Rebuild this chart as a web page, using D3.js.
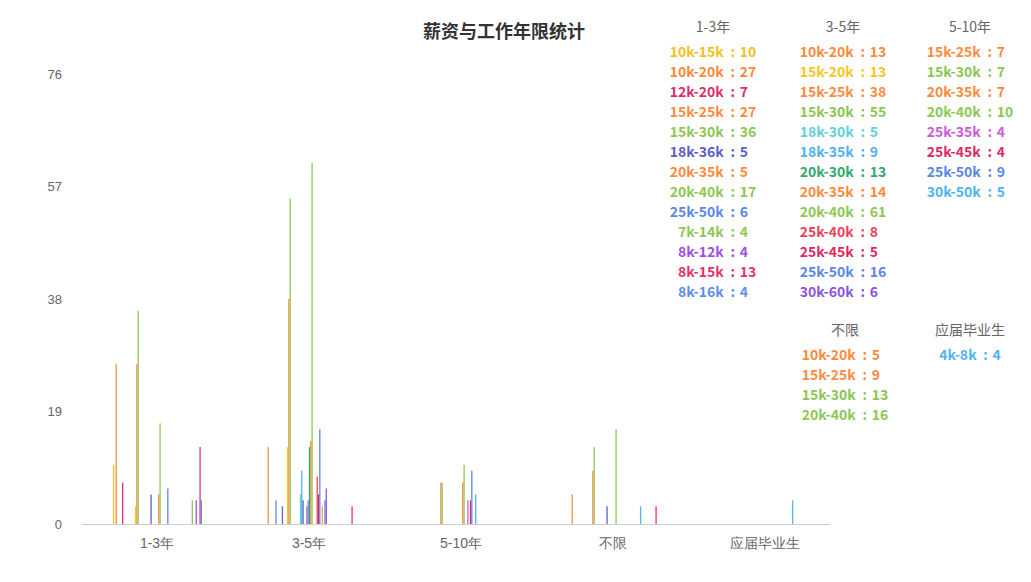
<!DOCTYPE html>
<html>
<head>
<meta charset="utf-8">
<script src="https://cdn.jsdelivr.net/npm/d3@7"></script>
<style>
  body { margin: 0; background: #fff; }
  svg { display: block; font-family: "Microsoft YaHei", "Noto Sans CJK SC", sans-serif; }
</style>
</head>
<body>
<svg id="chart"></svg>
<script>
// Categories (work experience)
const experience = ['1-3年', '3-5年', '5-10年', '不限', '应届毕业生'];

// All salary ranges found in the data, in the order the series are laid out
const salaryKeys = [
  '10k-15k', '10k-18k', '10k-20k', '10k-25k', '11k-20k', '11k-22k', '12k-18k', '12k-20k', '12k-22k',
  '12k-24k', '12k-25k', '13k-20k', '13k-25k', '14k-20k', '14k-25k', '14k-28k', '15k-18k',
  '15k-20k', '15k-25k', '15k-30k', '15k-35k', '16k-25k', '16k-30k', '16k-32k', '17k-25k', '17k-30k', '18k-25k',
  '18k-30k', '18k-35k', '18k-36k', '19k-30k', '20k-22k', '20k-25k', '20k-28k', '20k-30k', '20k-35k', '20k-40k',
  '22k-40k', '25k-30k', '25k-35k', '25k-40k', '25k-45k', '25k-50k', '28k-45k', '30k-40k', '30k-50k', '30k-55k', '30k-60k',
  '35k-50k', '35k-60k', '35k-70k', '3k-5k', '40k-60k', '4k-6k', '4k-7k', '4k-8k',
  '50k-80k', '5k-10k', '5k-8k', '6k-10k', '6k-12k', '7k-14k', '7k-15k', '8k-10k', '8k-12k', '8k-13k', '8k-14k', '8k-15k', '8k-16k'
];

// Job counts per salary range, one list per category
const counts1to3 = [
  ['10k-15k', 10], ['10k-20k', 27], ['12k-20k', 7], ['15k-20k', 3], ['15k-25k', 27], ['15k-30k', 36],
  ['18k-36k', 5], ['20k-35k', 5], ['20k-40k', 17], ['25k-50k', 6], ['7k-14k', 4], ['8k-12k', 4],
  ['8k-15k', 13], ['8k-16k', 4]
];
const counts3to5 = [
  ['10k-20k', 13], ['12k-22k', 4], ['14k-20k', 3], ['15k-20k', 13], ['15k-25k', 38], ['15k-30k', 55],
  ['18k-30k', 5], ['18k-35k', 9], ['18k-36k', 4], ['20k-25k', 3], ['20k-28k', 4], ['20k-30k', 13],
  ['20k-35k', 14], ['20k-40k', 61], ['25k-40k', 8], ['25k-45k', 5], ['25k-50k', 16], ['30k-40k', 3],
  ['30k-55k', 4], ['30k-60k', 6], ['8k-15k', 3]
];
const counts5to10 = [
  ['15k-25k', 7], ['15k-30k', 7], ['20k-35k', 7], ['20k-40k', 10], ['25k-35k', 4], ['25k-45k', 4],
  ['25k-50k', 9], ['30k-50k', 5]
];
const countsAny = [
  ['10k-20k', 5], ['15k-25k', 9], ['15k-30k', 13], ['18k-36k', 3], ['20k-40k', 16], ['4k-8k', 3], ['8k-15k', 3]
];
const countsGraduate = [['4k-8k', 4]];
const countsByExperience = [counts1to3, counts3to5, counts5to10, countsAny, countsGraduate];

// Entries listed in the summary at the top right
const legend1to3 = ['10k-15k', '10k-20k', '12k-20k', '15k-25k', '15k-30k', '18k-36k', '20k-35k', '20k-40k', '25k-50k', '7k-14k', '8k-12k', '8k-15k', '8k-16k'];
const legend3to5 = ['10k-20k', '15k-20k', '15k-25k', '15k-30k', '18k-30k', '18k-35k', '20k-30k', '20k-35k', '20k-40k', '25k-40k', '25k-45k', '25k-50k', '30k-60k'];
const legend5to10 = ['15k-25k', '15k-30k', '20k-35k', '20k-40k', '25k-35k', '25k-45k', '25k-50k', '30k-50k'];
const legendAny = ['10k-20k', '15k-25k', '15k-30k', '20k-40k'];
const legendGraduate = ['4k-8k'];

const yTicks = [0, 19, 38, 57, 76];

// Series colours
const salaryColors = {
  '10k-15k': '#f6c022', '10k-20k': '#fb8a3c', '12k-20k': '#dc2d6a', '12k-22k': '#5b8ff0',
  '14k-20k': '#6463c9', '15k-20k': '#f8c623', '15k-25k': '#fd8b3f', '15k-30k': '#8cc652',
  '18k-30k': '#63d0dc', '18k-35k': '#4fb2ef', '18k-36k': '#5d5ec6', '20k-25k': '#b552c5',
  '20k-28k': '#5a8ee6', '20k-30k': '#2eaa6f', '20k-35k': '#fb8a3c', '20k-40k': '#8ec755',
  '25k-35k': '#cf5ad9', '25k-40k': '#f1415a', '25k-45k': '#df2862', '25k-50k': '#5a87e6',
  '30k-40k': '#fd9f4a', '30k-50k': '#4cb5f2', '30k-55k': '#5a87e6', '30k-60k': '#8b55da',
  '4k-8k': '#4fb5f2', '7k-14k': '#8ec755', '8k-12k': '#9c4fe0', '8k-15k': '#e7316c', '8k-16k': '#5d8fe8'
};

const width = 1031;
const height = 582;

const svg = d3.select('#chart')
  .attr('width', width)
  .attr('height', height);

// Scales
const x0 = d3.scaleBand()
  .domain(experience)
  .range([81, 841]);

const x1 = d3.scaleBand()
  .domain(salaryKeys)
  .range([-44, 45])
  .paddingInner(0);

const y = d3.scaleLinear()
  .domain([0, 76])
  .range([524, 74]);

// Title
svg.append('text')
  .attr('x', 504)
  .attr('y', 38)
  .attr('text-anchor', 'middle')
  .attr('font-size', 18)
  .attr('font-weight', 'bold')
  .attr('fill', '#333')
  .text('薪资与工作年限统计');

// Y axis: labels only
const yAxis = svg.append('g')
  .attr('transform', 'translate(62,0)')
  .call(d3.axisLeft(y).tickValues(yTicks).tickSize(0).tickPadding(0));
yAxis.select('.domain').remove();
yAxis.selectAll('text')
  .attr('fill', '#666')
  .attr('font-size', 13)
  .attr('font-family', null);

// X axis
const xAxis = svg.append('g')
  .attr('transform', 'translate(0,524)')
  .call(d3.axisBottom(x0).tickSize(0).tickPadding(14));
xAxis.select('.domain').remove();
xAxis.selectAll('text')
  .attr('fill', '#666')
  .attr('font-size', 14)
  .attr('font-family', null);

svg.append('line')
  .attr('x1', 82)
  .attr('x2', 830)
  .attr('y1', 524.5)
  .attr('y2', 524.5)
  .attr('stroke', '#ccc');

// Bars
const groups = svg.append('g')
  .selectAll('g')
  .data(experience)
  .join('g')
  .attr('transform', d => `translate(${x0(d) + x0.bandwidth() / 2},0)`);

groups.selectAll('rect')
  .data((d, i) => countsByExperience[i])
  .join('rect')
  .attr('x', d => x1(d[0]))
  .attr('width', x1.bandwidth())
  .attr('y', d => y(d[1]))
  .attr('height', d => y(0) - y(d[1]))
  .attr('fill', d => salaryColors[d[0]]);

// Summary lists
const summaries = [
  { title: '1-3年', keys: legend1to3, data: counts1to3, cx: 713, top: 27 },
  { title: '3-5年', keys: legend3to5, data: counts3to5, cx: 843, top: 27 },
  { title: '5-10年', keys: legend5to10, data: counts5to10, cx: 970, top: 27 },
  { title: '不限', keys: legendAny, data: countsAny, cx: 845, top: 330 },
  { title: '应届毕业生', keys: legendGraduate, data: countsGraduate, cx: 970, top: 330 }
];

summaries.forEach(s => {
  const g = svg.append('g');
  const lookup = new Map(s.data);

  g.append('text')
    .attr('x', s.cx)
    .attr('y', s.top)
    .attr('dy', '0.35em')
    .attr('text-anchor', 'middle')
    .attr('font-size', 14)
    .attr('fill', '#666')
    .text(s.title);

  const rows = g.selectAll('g.row')
    .data(s.keys)
    .join('g')
    .attr('class', 'row')
    .attr('font-size', 14)
    .attr('font-weight', 'bold')
    .attr('fill', d => salaryColors[d]);

  const keyText = rows.append('text')
    .attr('text-anchor', 'end')
    .attr('dy', '0.35em')
    .text(d => d);
  const colon = rows.append('text')
    .attr('text-anchor', 'middle')
    .attr('dy', '0.35em')
    .text(':');
  const valText = rows.append('text')
    .attr('dy', '0.35em')
    .text(d => lookup.get(d));

  const maxKey = d3.max(keyText.nodes(), n => n.getComputedTextLength());
  const maxVal = d3.max(valText.nodes(), n => n.getComputedTextLength());
  const kx = s.cx - (16 + maxVal - maxKey) / 2;

  rows.attr('transform', (d, i) => `translate(0,${s.top + 25 + i * 20})`);
  keyText.attr('x', kx);
  colon.attr('x', kx + 9);
  valText.attr('x', kx + 16);
});
</script>
</body>
</html>
